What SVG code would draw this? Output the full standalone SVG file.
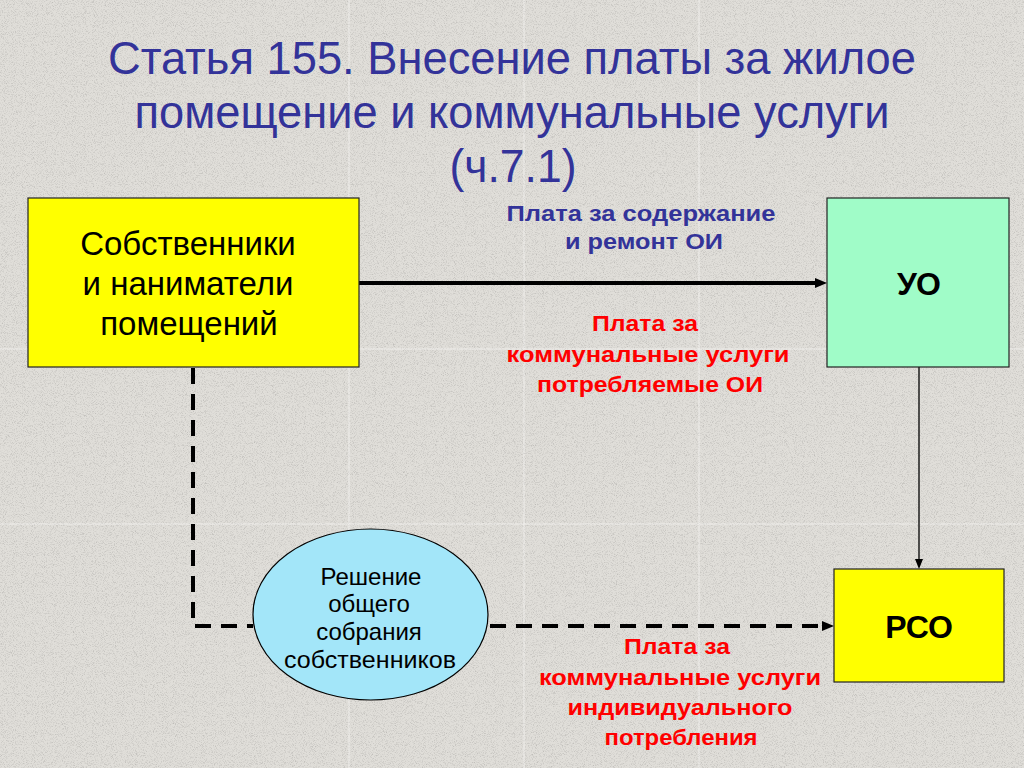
<svg xmlns="http://www.w3.org/2000/svg" width="1024" height="768" viewBox="0 0 1024 768">
  <defs>
    <filter id="grain" x="0" y="0" width="1" height="1" filterUnits="objectBoundingBox">
      <feTurbulence type="fractalNoise" baseFrequency="1.1" numOctaves="2" seed="7" result="n"/>
      <feColorMatrix in="n" type="matrix" values="0 0 0 0 0.45  0 0 0 0 0.44  0 0 0 0 0.42  1.8 0 0 0 -0.85"/>
    </filter>
    <marker id="ahBig" viewBox="0 0 12 10" refX="0" refY="5" markerWidth="12" markerHeight="10" markerUnits="userSpaceOnUse" orient="auto">
      <path d="M0,0 L12,5 L0,10 z" fill="#000"/>
    </marker>
    <marker id="ahSmall" viewBox="0 0 10 8" refX="0" refY="4" markerWidth="10" markerHeight="8" markerUnits="userSpaceOnUse" orient="auto">
      <path d="M0,0 L10,4 L0,8 z" fill="#000"/>
    </marker>
    <style>
      .title { font-family: "Liberation Sans", Arial, sans-serif; font-size: 46px; fill: #333399; text-anchor: middle; }
      .box { stroke: #222; stroke-width: 1.2; }
      .boxtxt { font-family: "Liberation Sans", Arial, sans-serif; font-size: 33px; fill: #000; text-anchor: middle; }
      .bold { font-weight: bold; font-size: 32px; }
      .elltxt { font-family: "Liberation Sans", Arial, sans-serif; font-size: 24px; fill: #000; text-anchor: middle; }
      .lblBlue { font-family: "Liberation Sans", Arial, sans-serif; font-size: 22px; font-weight: bold; fill: #333399; text-anchor: middle; }
      .lblRed { font-family: "Liberation Sans", Arial, sans-serif; font-size: 22px; font-weight: bold; fill: #ff0000; text-anchor: middle; }
      .solid { stroke: #000; fill: none; }
      .dash { stroke: #000; stroke-width: 4; fill: none; stroke-dasharray: 16 10; }
      .grid { stroke: #ffffff; stroke-opacity: 0.5; stroke-width: 1; }
    </style>
  </defs>

  <g id="background">
    <rect x="0" y="0" width="1024" height="768" fill="#e0ded9"/>
    <rect x="0" y="0" width="1024" height="768" filter="url(#grain)"/>
    <g class="grid">
      <line x1="349" y1="0" x2="349" y2="768"/>
      <line x1="524" y1="0" x2="524" y2="768"/>
      <line x1="699" y1="0" x2="699" y2="768"/>
      <line x1="0" y1="349" x2="1024" y2="349"/>
      <line x1="0" y1="524" x2="1024" y2="524"/>
    </g>
  </g>

  <g id="title">
    <text class="title" x="512" y="74" textLength="808" lengthAdjust="spacingAndGlyphs">Статья 155. Внесение платы за жилое</text>
    <text class="title" x="512" y="128" textLength="755" lengthAdjust="spacingAndGlyphs">помещение и коммунальные услуги</text>
    <text class="title" x="513" y="182" textLength="127" lengthAdjust="spacingAndGlyphs">(ч.7.1)</text>
  </g>

  <g id="connectors">
    <line id="c-owners-uo" class="solid" x1="359" y1="283" x2="815" y2="283" stroke-width="4" marker-end="url(#ahBig)"/>
    <line id="c-uo-rso" class="solid" x1="919" y1="367" x2="919" y2="559" stroke-width="1.3" marker-end="url(#ahSmall)"/>
    <polyline id="c-owners-meeting" class="dash" points="193,368 193,626 253,626"/>
    <line id="c-meeting-rso" class="dash" x1="490" y1="626" x2="822" y2="626" marker-end="url(#ahBig)"/>
  </g>

  <g id="node-owners">
    <rect class="box" x="28" y="198" width="331" height="169" fill="#ffff00"/>
    <text class="boxtxt" x="188" y="255">Собственники</text>
    <text class="boxtxt" x="188" y="295">и наниматели</text>
    <text class="boxtxt" x="189" y="335">помещений</text>
  </g>

  <g id="node-uo">
    <rect class="box" x="827" y="198" width="182" height="169" fill="#a0fcc8"/>
    <text class="boxtxt bold" x="919" y="295">УО</text>
  </g>

  <g id="node-rso">
    <rect class="box" x="834" y="569" width="170" height="113" fill="#ffff00"/>
    <text class="boxtxt bold" x="919" y="638">РСО</text>
  </g>

  <g id="node-meeting">
    <ellipse cx="370.5" cy="614.5" rx="117.5" ry="85.5" fill="#a3e6f9" stroke="#000" stroke-width="1.2"/>
    <text class="elltxt" x="371" y="585">Решение</text>
    <text class="elltxt" x="369" y="612">общего</text>
    <text class="elltxt" x="369" y="640">собрания</text>
    <text class="elltxt" x="370" y="668" textLength="172" lengthAdjust="spacingAndGlyphs">собственников</text>
  </g>

  <g id="labels">
    <text class="lblBlue" x="641" y="221" textLength="269" lengthAdjust="spacingAndGlyphs">Плата за содержание</text>
    <text class="lblBlue" x="644" y="249" textLength="158" lengthAdjust="spacingAndGlyphs">и ремонт ОИ</text>
    <text class="lblRed" x="645" y="331" textLength="106" lengthAdjust="spacingAndGlyphs">Плата за</text>
    <text class="lblRed" x="648" y="362" textLength="283" lengthAdjust="spacingAndGlyphs">коммунальные услуги</text>
    <text class="lblRed" x="650" y="392" textLength="226" lengthAdjust="spacingAndGlyphs">потребляемые ОИ</text>
    <text class="lblRed" x="677" y="654" textLength="106" lengthAdjust="spacingAndGlyphs">Плата за</text>
    <text class="lblRed" x="680" y="685" textLength="282" lengthAdjust="spacingAndGlyphs">коммунальные услуги</text>
    <text class="lblRed" x="680" y="715" textLength="225" lengthAdjust="spacingAndGlyphs">индивидуального</text>
    <text class="lblRed" x="681" y="745" textLength="153" lengthAdjust="spacingAndGlyphs">потребления</text>
  </g>
</svg>
